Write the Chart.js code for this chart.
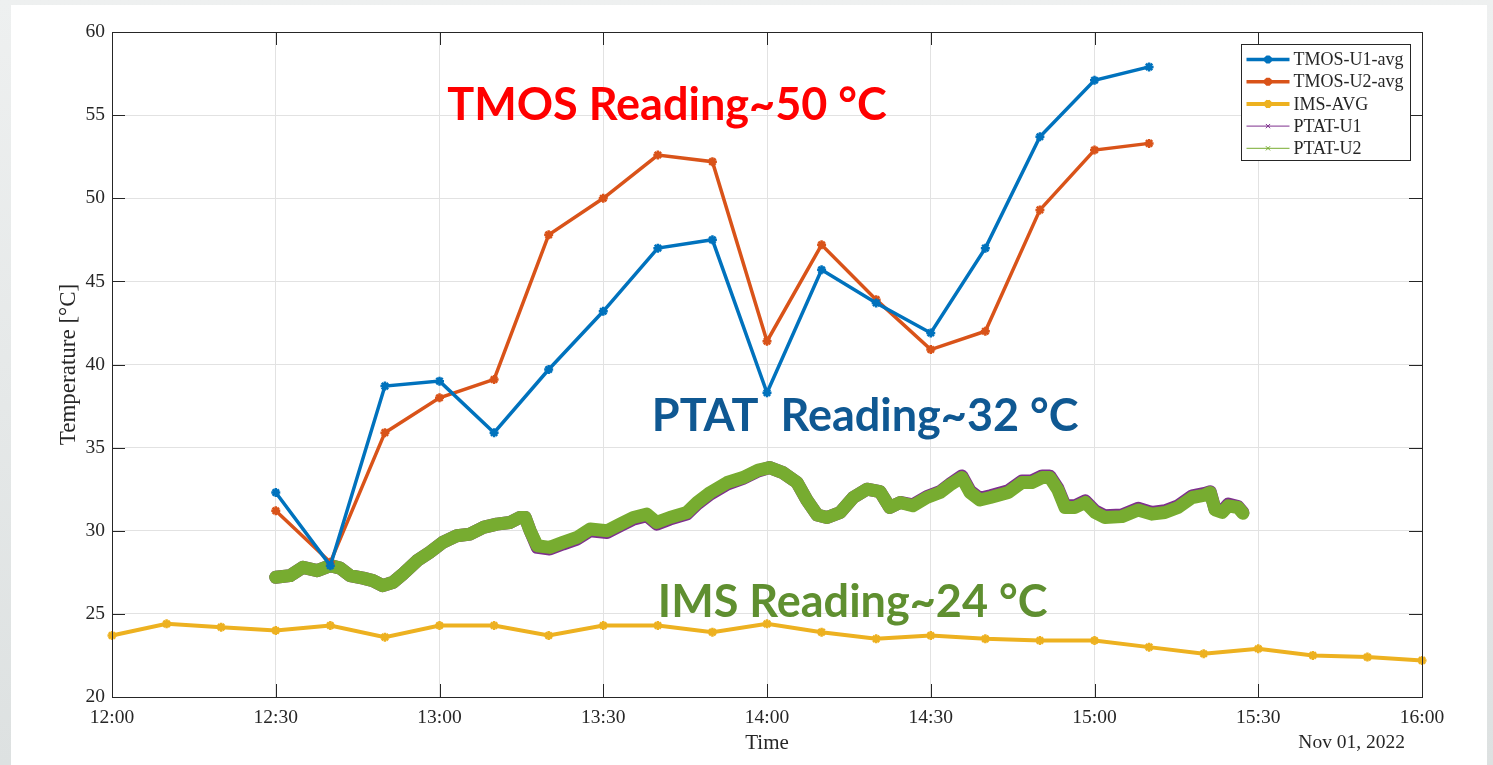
<!DOCTYPE html>
<html>
<head>
<meta charset="utf-8">
<script src="https://cdn.jsdelivr.net/npm/chart.js@4.4.1/dist/chart.umd.min.js"></script>
<style>
  html, body { margin: 0; padding: 0; width: 1493px; height: 765px; overflow: hidden;
    background: linear-gradient(180deg, #eef0f0 0%, #dde1e1 100%); }
  #panel { position: absolute; left: 11px; top: 5px; width: 1476px; height: 760px; background: #ffffff; }
  #wrap { position: absolute; left: 0; top: 0; width: 1493px; height: 765px; }
</style>
</head>
<body>
<div id="panel"></div>
<div id="wrap"><canvas id="chart" width="1493" height="765"></canvas></div>
<script>
// ---- data ---------------------------------------------------------------
// TMOS averages, sampled every 10 minutes
const tmosTimes = ['12:30','12:40','12:50','13:00','13:10','13:20','13:30','13:40','13:50',
                   '14:00','14:10','14:20','14:30','14:40','14:50','15:00','15:10'];
const tmosU1 = [32.3, 27.9, 38.7, 39.0, 35.9, 39.7, 43.2, 47.0, 47.5,
                38.3, 45.7, 43.7, 41.9, 47.0, 53.7, 57.1, 57.9];
const tmosU2 = [31.2, 28.1, 35.9, 38.0, 39.1, 47.8, 50.0, 52.6, 52.2,
                41.4, 47.2, 43.9, 40.9, 42.0, 49.3, 52.9, 53.3];

// IMS average, every 10 minutes over the full window
const imsTimes = ['12:00','12:10','12:20','12:30','12:40','12:50','13:00','13:10','13:20',
                  '13:30','13:40','13:50','14:00','14:10','14:20','14:30','14:40','14:50',
                  '15:00','15:10','15:20','15:30','15:40','15:50','16:00'];
const imsAvg = [23.7, 24.4, 24.2, 24.0, 24.3, 23.6, 24.3, 24.3, 23.7,
                24.3, 24.3, 23.9, 24.4, 23.9, 23.5, 23.7, 23.5, 23.4,
                23.4, 23.0, 22.6, 22.9, 22.5, 22.4, 22.2];

// PTAT readings, minutes after 12:00
const ptatMinutes = [30.0, 32.6, 35.0, 37.6, 40.0, 41.8, 43.6, 46.0, 47.8, 49.6, 51.5, 53.3,
  55.9, 58.2, 60.6, 63.2, 65.6, 68.0, 70.5, 72.9, 74.7, 75.7, 76.6, 77.9, 80.2, 82.6, 85.2,
  87.6, 90.7, 93.1, 95.5, 98.0, 99.8, 102.2, 105.3, 107.2, 109.6, 112.7, 115.6, 118.4, 120.5,
  122.9, 125.5, 127.3, 129.2, 131.0, 133.4, 135.8, 138.3, 140.7, 142.5, 144.4, 146.7, 149.3,
  151.7, 153.5, 155.7, 157.2, 159.0, 160.9, 164.2, 166.7, 168.5, 170.4, 171.8, 173.3, 174.6,
  176.4, 178.3, 180.1, 181.9, 185.0, 188.0, 190.5, 192.9, 195.3, 197.9, 200.2, 201.2, 202.1,
  203.4, 204.5, 206.3, 207.2];
const ptatU1 = [27.2, 27.3, 27.8, 27.6, 27.9, 27.75, 27.3, 27.15, 27.0, 26.7, 26.9, 27.4,
  28.2, 28.7, 29.3, 29.7, 29.8, 30.2, 30.4, 30.5, 30.8, 30.8, 30.0, 29.0, 28.9, 29.2, 29.5,
  30.0, 29.9, 30.3, 30.7, 30.9, 30.4, 30.7, 31.0, 31.6, 32.2, 32.8, 33.15, 33.6, 33.8,
  33.5, 32.9, 31.85, 30.95, 30.8, 31.1, 32.0, 32.5, 32.35, 31.4, 31.7, 31.55, 32.05,
  32.35, 32.8, 33.3, 32.4, 31.95, 32.1, 32.4, 33.0, 33.0, 33.3, 33.3, 32.55, 31.5,
  31.5, 31.8, 31.2, 30.9, 30.95, 31.35, 31.1, 31.2, 31.5, 32.1, 32.25, 32.35, 31.3,
  31.2, 31.6, 31.45, 31.1];
const ptatU2 = [27.2, 27.3, 27.8, 27.6, 27.9, 27.75, 27.3, 27.15, 27.0, 26.7, 26.9, 27.4,
  28.2, 28.7, 29.3, 29.7, 29.8, 30.2, 30.4, 30.5, 30.8, 30.8, 30.0, 29.1, 29.0, 29.3, 29.6,
  30.1, 30.0, 30.4, 30.8, 31.0, 30.5, 30.8, 31.1, 31.7, 32.3, 32.9, 33.2, 33.65, 33.8,
  33.5, 32.9, 31.85, 30.95, 30.8, 31.1, 32.0, 32.5, 32.35, 31.4, 31.7, 31.5, 32.0,
  32.3, 32.75, 33.2, 32.3, 31.85, 32.0, 32.3, 32.9, 32.9, 33.2, 33.2, 32.45, 31.4,
  31.4, 31.7, 31.1, 30.8, 30.85, 31.25, 31.0, 31.1, 31.4, 32.0, 32.15, 32.3, 31.25,
  31.1, 31.5, 31.4, 31.05];

// axis ticks
const timeTicks = ['12:00','12:30','13:00','13:30','14:00','14:30','15:00','15:30','16:00'];
const tempTicks = [20, 25, 30, 35, 40, 45, 50, 55, 60];
const dateLabel = 'Nov 01, 2022';

// ---- helpers ------------------------------------------------------------
const toMin = s => { const [h, m] = s.split(':').map(Number); return (h - 12) * 60 + m; };
const toClock = v => { const h = 12 + Math.floor(v / 60), m = Math.round(v % 60);
  return h + ':' + String(m).padStart(2, '0'); };
const pts = (xs, ys) => xs.map((x, i) => ({ x: typeof x === 'string' ? toMin(x) : x, y: ys[i] }));

const INK = '#262626';
const SERIF = '"Liberation Serif", "Times New Roman", serif';
const NOTE_FONT = 'bold 45px Lato, "Open Sans", sans-serif';

const COLORS = { u1: '#0072BD', u2: '#D95319', ims: '#EDB120', p1: '#7E2F8E', p2: '#77AC30' };

// lower "order" is painted later (on top)
const datasets = [
  { label: 'TMOS-U1-avg', data: pts(tmosTimes, tmosU1), borderColor: COLORS.u1, backgroundColor: COLORS.u1,
    borderWidth: 3.5, pointStyle: 'star', pointRadius: 4.5, pointBorderWidth: 2.5, clip: false, order: 0 },
  { label: 'TMOS-U2-avg', data: pts(tmosTimes, tmosU2), borderColor: COLORS.u2, backgroundColor: COLORS.u2,
    borderWidth: 3.5, pointStyle: 'star', pointRadius: 4.5, pointBorderWidth: 2.5, clip: false, order: 0 },
  { label: 'IMS-AVG', data: pts(imsTimes, imsAvg), borderColor: COLORS.ims, backgroundColor: COLORS.ims,
    borderWidth: 4, pointStyle: 'star', pointRadius: 4.5, pointBorderWidth: 2.5, clip: false, order: 0 },
  { label: 'PTAT-U1', data: pts(ptatMinutes, ptatU1), borderColor: COLORS.p1, backgroundColor: COLORS.p1,
    borderWidth: 13, pointRadius: 0, borderJoinStyle: 'round', borderCapStyle: 'round',
    legendWidth: 1, legendStyle: 'crossRot', order: 2 },
  { label: 'PTAT-U2', data: pts(ptatMinutes, ptatU2), borderColor: COLORS.p2, backgroundColor: COLORS.p2,
    borderWidth: 13, pointRadius: 0, borderJoinStyle: 'round', borderCapStyle: 'round',
    legendWidth: 1, legendStyle: 'crossRot', order: 1 }
];

// ---- plugin: MATLAB-style frame, inner ticks, legend box, notes ----------
const framePlugin = {
  id: 'frame',
  afterDatasetsDraw(chart, args, opts) {
    const { ctx, chartArea: a, scales: { x, y } } = chart;
    ctx.save();
    // frame
    ctx.strokeStyle = INK;
    ctx.lineWidth = 1;
    ctx.strokeRect(Math.round(a.left) + 0.5, Math.round(a.top) + 0.5,
                   Math.round(a.right - a.left), Math.round(a.bottom - a.top));
    // inner tick marks on all four sides
    const L = 13;
    ctx.beginPath();
    timeTicks.forEach(t => {
      const px = Math.round(x.getPixelForValue(toMin(t))) + 0.5;
      ctx.moveTo(px, a.bottom); ctx.lineTo(px, a.bottom - L);
      ctx.moveTo(px, a.top); ctx.lineTo(px, a.top + L);
    });
    tempTicks.forEach(v => {
      const py = Math.round(y.getPixelForValue(v)) + 0.5;
      ctx.moveTo(a.left, py); ctx.lineTo(a.left + L, py);
      ctx.moveTo(a.right, py); ctx.lineTo(a.right - L, py);
    });
    ctx.stroke();

    // notes
    opts.notes.forEach(n => {
      ctx.font = NOTE_FONT;
      ctx.fillStyle = n.color;
      ctx.textAlign = 'left';
      ctx.textBaseline = 'middle';
      ctx.fillText(n.text, x.getPixelForValue(toMin(n.at[0]) + n.at[1]), y.getPixelForValue(n.at[2]));
    });

    // date under the time axis
    ctx.font = '19.5px ' + SERIF;
    ctx.fillStyle = INK;
    ctx.textAlign = 'right';
    ctx.textBaseline = 'middle';
    ctx.fillText(dateLabel, a.right - 17, a.bottom + 46);

    // legend box
    const bx = Math.round(a.right) - 180.5, by = Math.round(a.top) + 12.5, bw = 169, bh = 116;
    ctx.fillStyle = '#ffffff';
    ctx.fillRect(bx, by, bw, bh);
    ctx.strokeStyle = INK;
    ctx.lineWidth = 1;
    ctx.strokeRect(bx, by, bw, bh);
    ctx.font = '18px ' + SERIF;
    ctx.textAlign = 'left';
    ctx.textBaseline = 'middle';
    chart.data.datasets.forEach((ds, i) => {
      const ry = by + 15 + i * 22.2;
      const lw = ds.legendWidth || ds.borderWidth;
      ctx.strokeStyle = ds.borderColor;
      ctx.fillStyle = ds.borderColor;
      ctx.lineWidth = lw;
      ctx.beginPath();
      ctx.moveTo(bx + 5, ry); ctx.lineTo(bx + 48, ry);
      ctx.stroke();
      Chart.helpers.drawPoint(ctx, {
        pointStyle: ds.legendStyle || ds.pointStyle, radius: ds.legendStyle ? 3 : 4,
        borderWidth: ds.legendStyle ? 1 : 2.5, rotation: 0
      }, bx + 26.5, ry);
      ctx.fillStyle = INK;
      ctx.fillText(ds.label, bx + 52, ry + 1);
    });
    ctx.restore();
  }
};

new Chart(document.getElementById('chart'), {
  type: 'line',
  data: { datasets },
  options: {
    responsive: false,
    animation: false,
    devicePixelRatio: 1,
    layout: { padding: { top: 32, right: 71, left: 0, bottom: 0 } },
    elements: { line: { tension: 0 } },
    plugins: {
      legend: { display: false },
      tooltip: { enabled: false },
      frame: {
        notes: [
          { text: 'TMOS Reading~50 °C', color: '#ff0000', at: ['13:00', 1.4, 55.55] },
          { text: 'PTAT  Reading~32 °C', color: '#0f5892', at: ['13:30', 8.9, 36.9] },
          { text: 'IMS Reading~24 °C', color: '#5f8f30', at: ['13:30', 10.0, 25.71] }
        ]
      }
    },
    scales: {
      x: {
        type: 'linear', min: 0, max: 240,
        afterFit: s => { s.height = 68; },
        afterBuildTicks: s => { s.ticks = timeTicks.map(t => ({ value: toMin(t) })); },
        ticks: { callback: v => toClock(v), color: INK, padding: 9.5, maxRotation: 0,
                 font: { family: SERIF, size: 19.5 } },
        grid: { color: '#e2e2e2', drawTicks: false },
        border: { display: false },
        title: { display: true, text: 'Time', color: INK, padding: { top: 0, bottom: 9 },
                 font: { family: SERIF, size: 21 } }
      },
      y: {
        min: 20, max: 60,
        afterFit: s => { s.width = 112; },
        afterBuildTicks: s => { s.ticks = tempTicks.map(v => ({ value: v })); },
        ticks: { color: INK, padding: 7, font: { family: SERIF, size: 19.5 } },
        grid: { color: '#e2e2e2', drawTicks: false },
        border: { display: false },
        title: { display: true, text: 'Temperature [°C]', color: INK, padding: { top: 55, bottom: 0 },
                 font: { family: SERIF, size: 23 } }
      }
    }
  },
  plugins: [framePlugin]
});
</script>
</body>
</html>
